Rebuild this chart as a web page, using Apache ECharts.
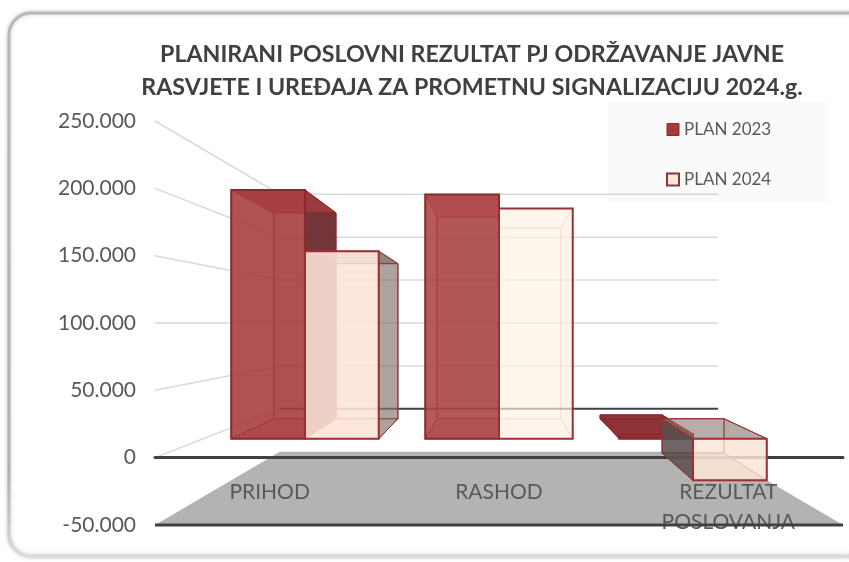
<!DOCTYPE html>
<html><head><meta charset="utf-8">
<style>html,body{margin:0;padding:0;background:#fff}#c{width:849px;height:562px}</style>
<script src="https://cdn.jsdelivr.net/npm/echarts@6/dist/echarts.min.js"></script>
</head><body><div id="c"></div>
<script>
const titleLines = ['PLANIRANI POSLOVNI REZULTAT PJ ODRŽAVANJE JAVNE','RASVJETE I UREĐAJA ZA PROMETNU SIGNALIZACIJU 2024.g.'];
const categories = ['PRIHOD','RASHOD','REZULTAT\nPOSLOVANJA'];
const plan2023 = [215000,211000,4000];
const plan2024 = [162000,199000,-36000];
const yTicks = [-50000,0,50000,100000,150000,200000,250000];

const S_BACK=0.637, S_BAR_FRONT=0.859, S_BAR_FRONT_X=0.846, S_BAR_BACK=0.711, BAR_FRAC=0.38;
const styles2023 = {
  front:['rgba(166,62,64,0.86)','rgba(172,70,72,0.86)','rgba(138,40,44,0.95)'],
  back:'rgba(150,50,52,0.35)', left:['rgba(150,50,52,0.25)','rgba(150,50,52,0.25)','rgba(138,40,44,0.9)'],
  right:['rgba(110,45,48,0.95)','rgba(150,50,52,0.1)','rgba(125,30,35,0.95)'],
  top:['rgba(160,60,62,0.9)','rgba(195,95,95,0.85)','rgba(138,42,46,0.92)'],
  bottom:'rgba(160,50,52,0.5)', edge:'#8a2a2d'
};
const styles2024 = {
  front:['rgba(253,229,215,0.88)','rgba(255,243,230,0.6)','rgba(253,229,215,0.8)'],
  back:'rgba(253,235,222,0.15)', left:['rgba(253,235,222,0.1)','rgba(253,235,222,0.1)','rgba(85,75,75,0.85)'],
  right:['rgba(125,108,100,0.62)','rgba(225,215,215,0.2)','rgba(225,215,215,0.2)'],
  top:['rgba(125,108,100,0.6)','rgba(240,230,225,0.2)','rgba(125,108,100,0.55)'],
  bottom:'rgba(253,229,215,0.35)', edge:'#9a3034'
};
function projector(cs){
  const vx=cs.x+cs.width/2, vy=cs.y+cs.height/2;
  return (p,sx,sy)=>[vx+(p[0]-vx)*sx, vy+(p[1]-vy)*sy];
}
function barRender(k,st){
  return function(params,api){
    const i=api.value(0), v=api.value(1);
    const prj=projector(params.coordSys);
    const band=api.size([1,0])[0];
    const c0=api.coord([i,0]), c1=api.coord([i,v]);
    const L=c0[0]-band*BAR_FRAC+k*band*BAR_FRAC, R=L+band*BAR_FRAC;
    const ptF=(x,y)=>prj([x,y],S_BAR_FRONT_X,S_BAR_FRONT);
    const ptB=(x,y)=>prj([x,y],S_BAR_BACK,S_BAR_BACK);
    const y0=c0[1], y1=c1[1];
    const hi=Math.min(y0,y1), lo=Math.max(y0,y1);
    const thin=st.edge;
    const fi=Math.round(i);
    const faintEdge=(k===1&&fi===1)?'rgba(154,48,52,0.2)':thin;
    const ch=[];
    const faintFace=(pts,fill)=>({type:'polygon',shape:{points:pts},style:{fill:fill,stroke:faintEdge,lineWidth:1}});
    ch.push(faintFace([ptB(L,hi),ptB(R,hi),ptB(R,lo),ptB(L,lo)],st.back));
    ch.push(faintFace([ptF(L,lo),ptF(R,lo),ptB(R,lo),ptB(L,lo)],st.bottom));
    ch.push(faintFace([ptF(L,hi),ptF(L,lo),ptB(L,lo),ptB(L,hi)],st.left[fi]));
    ch.push(faintFace([ptF(R,hi),ptF(R,lo),ptB(R,lo),ptB(R,hi)],st.right[fi]));
    ch.push(faintFace([ptF(L,hi),ptF(R,hi),ptB(R,hi),ptB(L,hi)],st.top[fi]));
    ch.push({type:'polygon',shape:{points:[ptF(L,hi),ptF(R,hi),ptF(R,lo),ptF(L,lo)]},style:{fill:st.front[fi],stroke:thin,lineWidth:2}});
    return {type:'group',children:ch};
  };
}
function wallRender(params,api){
  const v=api.value(0), cs=params.coordSys;
  const prj=projector(cs);
  const y=api.coord([0,v])[1], xl=cs.x, xr=cs.x+cs.width;
  const bl=prj([xl,y],S_BACK,S_BACK), br=prj([xr,y],S_BACK,S_BACK);
  const ch=[];
  if(v===yTicks[0]){
    ch.push({type:'polygon',shape:{points:[[xl,y],[xr,y],br,bl]},style:{fill:'#b3b3b3'}});
  } else {
    ch.push({type:'line',shape:{x1:xl,y1:y,x2:bl[0],y2:bl[1]},style:{stroke:'#d9d9d9',lineWidth:1.5}});
    ch.push({type:'line',shape:{x1:bl[0],y1:bl[1],x2:br[0],y2:br[1]},style:v===0?{stroke:'#404040',lineWidth:2}:{stroke:'#d9d9d9',lineWidth:1.5}});
  }
  return {type:'group',children:ch};
}
function bottomLineRender(params,api){
  const cs=params.coordSys, y=api.coord([0,api.value(0)])[1];
  return {type:'line',shape:{x1:cs.x,y1:y,x2:cs.x+cs.width,y2:y},style:{stroke:'#404040',lineWidth:3}};
}
const chart=echarts.init(document.getElementById('c'),null,{renderer:'canvas'});
chart.setOption({
  animation:false,
  backgroundColor:'#fff',
  graphic:[{type:'rect',z:-1,shape:{x:9,y:13,width:860,height:543,r:22},
    style:{fill:'#fff',lineWidth:3,shadowBlur:4,shadowColor:'rgba(0,0,0,0.2)',
      stroke:{type:'linear',x:0,y:0,x2:0,y2:1,colorStops:[{offset:0,color:'#b8b8b8'},{offset:0.85,color:'#b0b0b0'},{offset:1,color:'#dcdcdc'}]}}}],
  title:{text:titleLines.join('\n'),left:467,top:33,textAlign:'center',
    textStyle:{fontFamily:'Lato',fontWeight:'bold',fontSize:23.2,lineHeight:33,color:'#404040'}},
  legend:{show:true,orient:'vertical',left:608,top:102,
    padding:[19,56,15,58],itemGap:33,itemWidth:12,itemHeight:12,
    backgroundColor:'rgba(0,0,0,0.02)',
    textStyle:{fontFamily:'Lato',fontSize:17,color:'#595959'},
    data:[{name:'PLAN 2023',icon:'rect',itemStyle:{color:'#a83a3d',borderColor:'#8a2a2d',borderWidth:1}},
          {name:'PLAN 2024',icon:'rect',itemStyle:{color:'#fde5d8',borderColor:'#7f3a3a',borderWidth:2}}]},
  grid:{left:155,right:6,top:121,bottom:37,containLabel:false,outerBoundsMode:'none'},
  xAxis:{type:'category',data:categories,z:3,
    axisLine:{onZero:true,lineStyle:{color:'#404040',width:3}},axisTick:{show:false},
    axisLabel:{margin:-48,fontFamily:'Lato',fontSize:21,lineHeight:30,color:'#595959',interval:0}},
  yAxis:{type:'value',min:yTicks[0],max:yTicks[yTicks.length-1],interval:50000,
    axisLine:{show:false},axisTick:{show:false},splitLine:{show:false},
    axisLabel:{margin:19,fontFamily:'Lato',fontSize:21,color:'#595959',
      formatter:v=>String(v).replace(/\B(?=(\d{3})+$)/g,'.')}},
  series:[
    {type:'custom',name:'walls',z:1,silent:true,clip:false,coordinateSystem:'cartesian2d',data:yTicks.map(v=>[0,v]),
      encode:{x:0,y:1},renderItem:(p,a)=>wallRender(p,{value:()=>a.value(1),coord:a.coord})},
    {type:'custom',name:'PLAN 2023',z:4,clip:false,data:plan2023.map((v,i)=>[i,v]),encode:{x:0,y:1},
      itemStyle:{color:'#a83a3d'},renderItem:barRender(0,styles2023)},
    {type:'custom',name:'PLAN 2024',z:5,clip:false,data:plan2024.map((v,i)=>[i,v]),encode:{x:0,y:1},
      itemStyle:{color:'#fde5d8'},renderItem:barRender(1,styles2024)},
    {type:'custom',name:'base',z:6,silent:true,clip:false,data:[[0,yTicks[0]]],encode:{x:0,y:1},
      renderItem:(p,a)=>bottomLineRender(p,{value:()=>a.value(1),coord:a.coord})}
  ]
});
</script></body></html>
